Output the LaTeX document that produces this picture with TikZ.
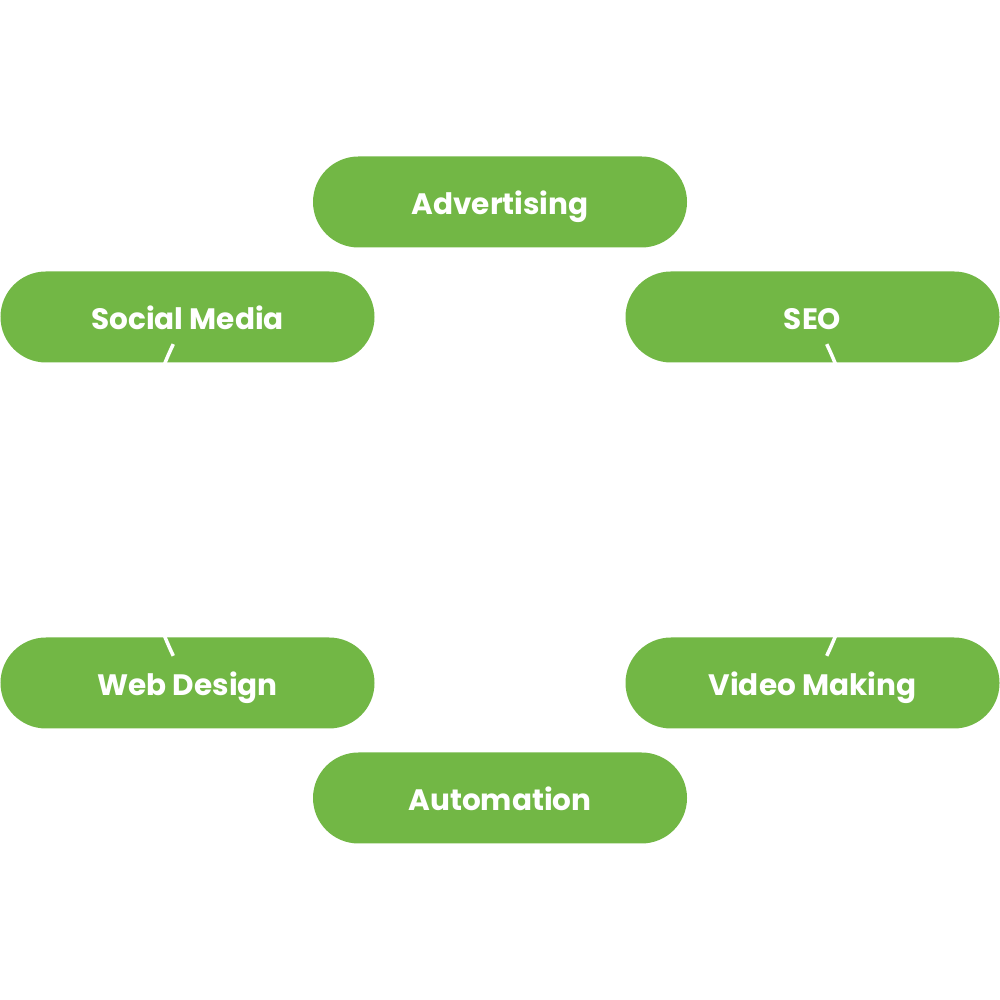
\documentclass[tikz,border=0pt]{standalone}
\usepackage{fontspec}
\setmainfont{Poppins}
\usepackage{tikz}

\definecolor{pillgreen}{HTML}{72B745}
\tikzset{
    pill/.style={fill=pillgreen, rounded corners=0.455cm, minimum width=3.74cm, minimum height=0.91cm,
        text=white, font=\fontsize{8.4}{10}\selectfont\bfseries, inner sep=0pt,
        text height=0.75em, text depth=0.05em},
    ring/.style={white, line width=1pt}
}

\begin{document}
\begin{tikzpicture}
        \useasboundingbox (0, 0) rectangle (10, 10);
        \coordinate (centre) at (5, 5);

        \node [pill] (advertising) at (5, 7.98) {Advertising};
        \node [pill] (social) at (1.875, 6.83) {Social Media};
        \node [pill] (seo) at (8.125, 6.83) {SEO};
        \node [pill] (web) at (1.875, 3.17) {Web Design};
        \node [pill] (video) at (8.125, 3.17) {Video Making};
        \node [pill] (automation) at (5, 2.02) {Automation};

        \draw [ring] ([shift={(154.5:3.62)}]centre) arc(154.5:205.5:3.62);
        \draw [ring] ([shift={(25.5:3.62)}]centre) arc(25.5:-25.5:3.62);
    \end{tikzpicture}
\end{document}
